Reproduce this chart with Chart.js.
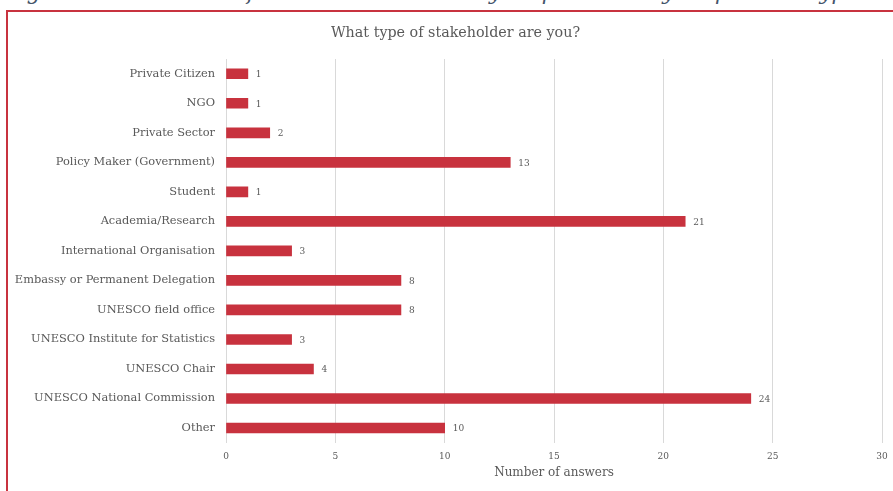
<!DOCTYPE html>
<html><head><meta charset="utf-8">
<script src="https://cdn.jsdelivr.net/npm/chart.js@4"></script>
<style>
html,body{margin:0;padding:0;background:#fff;overflow:hidden;width:893px;height:491px;}
#cap{position:absolute;left:5px;top:-20px;font-family:"DejaVu Serif",serif;font-style:italic;font-size:21.4px;color:#44546A;white-space:nowrap;line-height:24px;}
#frame{position:absolute;left:6px;top:10px;width:900px;height:500px;border:2px solid #C8333F;box-sizing:border-box;}
#wrap{position:absolute;left:0;top:0;width:893px;height:491px;}
</style></head>
<body>
<div id="cap">Figure 2 Breakdown of UIS evaluation survey respondents by respondent type</div>
<div id="frame"></div>
<div id="wrap"><canvas id="c" width="893" height="491"></canvas></div>
<script>
const categories = ["Private Citizen","NGO","Private Sector","Policy Maker (Government)","Student","Academia/Research","International Organisation","Embassy or Permanent Delegation","UNESCO field office","UNESCO Institute for Statistics","UNESCO Chair","UNESCO National Commission","Other"];
const answers = [1,1,2,13,1,21,3,8,8,3,4,24,10];
const xTicks = [0,5,10,15,20,25,30];
const chartTitle = "What type of stakeholder are you?";
const xTitle = "Number of answers";

const FONT = "'DejaVu Serif', serif";
const labelPlugin = {
  id:'vals',
  afterDatasetsDraw(chart){
    const ctx = chart.ctx;
    const meta = chart.getDatasetMeta(0);
    ctx.save();
    ctx.font = "9px " + FONT;
    ctx.fillStyle = "#595959";
    ctx.textBaseline = "middle";
    meta.data.forEach((bar,i)=>{
      ctx.fillText(String(answers[i]), bar.x + 8, bar.y + 1);
    });
    ctx.restore();
  }
};
const titlePlugin = {
  id:'frameTitle',
  afterDraw(chart){
    const ctx = chart.ctx;
    ctx.save();
    ctx.font = "14.3px " + FONT;
    ctx.fillStyle = "#595959";
    ctx.textAlign = "center";
    ctx.textBaseline = "middle";
    ctx.fillText(chartTitle, (8 + 903) / 2, chart.chartArea.top - 26);
    ctx.restore();
  }
};
new Chart(document.getElementById('c'), {
  type:'bar',
  data:{labels:categories, datasets:[{data:answers, backgroundColor:'#C8323E', barThickness:10}]},
  options:{
    indexAxis:'y', responsive:false, animation:false,
    layout:{padding:{top:59,right:11,bottom:11,left:0}},
    plugins:{
      legend:{display:false}, tooltip:{enabled:false},
      title:{display:false}
    },
    scales:{
      x:{min:0,max:30,
        afterBuildTicks(s){ s.ticks = xTicks.map(v=>({value:v})); },
        afterFit(s){ s.paddingRight = 0; s.paddingLeft = 0; },
        grid:{color:'#D9D9D9', drawTicks:false},
        border:{display:false},
        ticks:{color:'#595959', font:{family:FONT,size:9}, padding:8},
        title:{display:true, text:xTitle, color:'#595959', font:{family:FONT,size:12}, padding:{top:-4,bottom:0}}
      },
      y:{
        afterFit(s){ s.width = 226; },
        grid:{display:false, drawTicks:false},
        border:{display:true, color:'#D9D9D9'},
        ticks:{color:'#595959', font:{family:FONT,size:11.4}, padding:11}
      }
    }
  },
  plugins:[labelPlugin, titlePlugin]
});
</script>
</body></html>
